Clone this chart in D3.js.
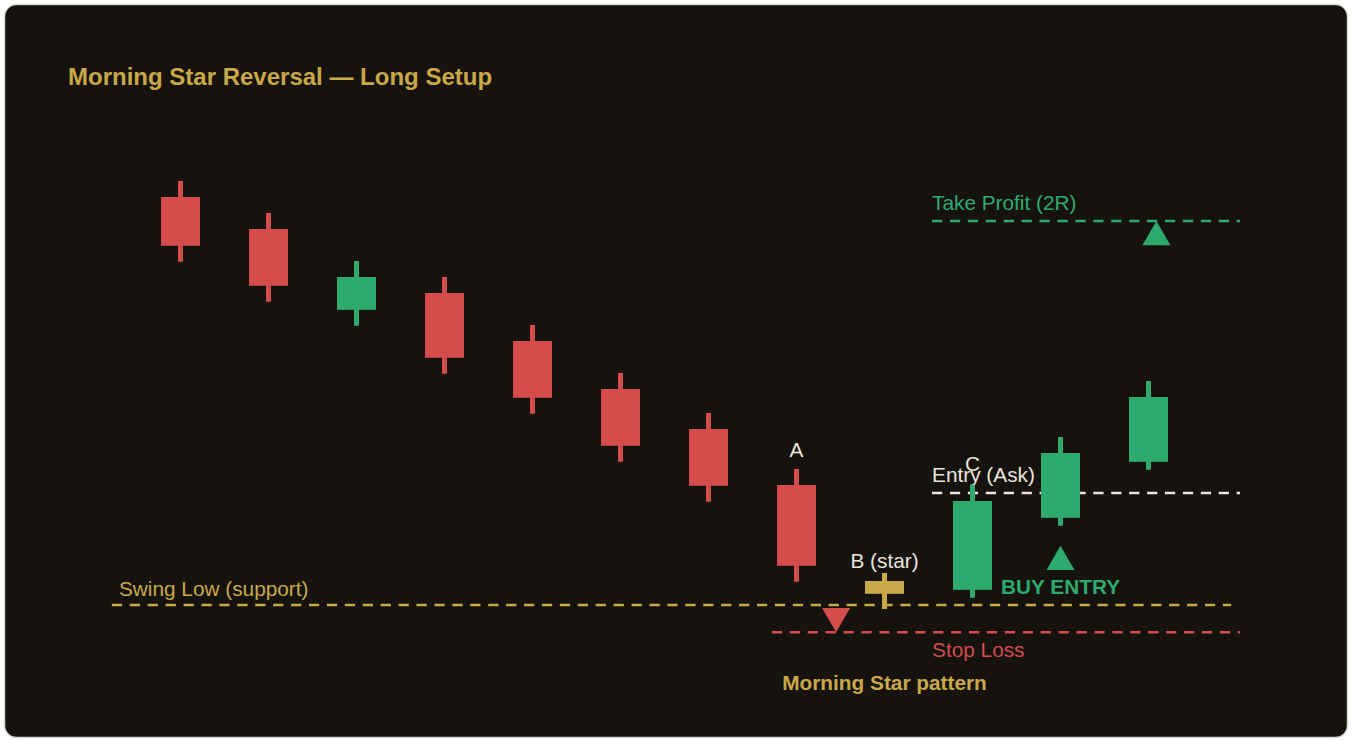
<!DOCTYPE html>
<html>
<head>
<meta charset="utf-8">
<script src="https://cdn.jsdelivr.net/npm/d3@7"></script>
<style>
  body { margin: 0; background: #ffffff; }
  text { font-family: "Liberation Sans", Arial, sans-serif; }
</style>
</head>
<body>
<div id="chart"></div>
<script>
var width = 1353;
var height = 740;

// candles, index 0..11
var opens = [151, 147, 136.9, 139, 133, 127, 122, 115, 103, 101.9, 110.9, 117.9];
var closes = [144.9, 139.9, 141, 130.9, 125.9, 119.9, 114.9, 104.9, 101.4, 113, 119, 126];
var highs = [153, 149, 143, 141, 135, 129, 124, 117, 104, 115, 121, 128];
var lows = [142.9, 137.9, 134.9, 128.9, 123.9, 117.9, 112.9, 102.9, 99.5, 100.9, 109.9, 116.9];
var starIndex = 8;

// horizontal levels
var levelNames = ["Swing Low (support)", "Stop Loss", "Entry (Ask)", "Take Profit (2R)"];
var levelPrices = [100, 96.6, 114, 148];
var levelColors = ["#c9a84a", "#d44c4c", "#e9e5dc", "#2eaa6e"];
// where each level starts / ends and where its label sits (candle index, price)
var levelFrom = [-0.78, 6.72, 8.54, 8.54];
var levelTo = [11.94, 12.04, 12.04, 12.04];
var levelLabelX = [-0.7, 8.54, 8.54, 8.54];
var levelLabelPrice = [101.1, 93.5, 115.4, 149.4];

// triangle markers
var markerX = [7.45, 10, 11.09];
var markerPrice = [96.6, 107.4, 148];
var markerDir = ["down", "up", "up"];
var markerColors = ["#d44c4c", "#2eaa6e", "#2eaa6e"];

// text annotations
var noteTexts = ["A", "B (star)", "C", "BUY ENTRY", "Morning Star pattern"];
var noteX = [7, 8, 9, 10, 8];
var notePrice = [118.5, 104.6, 116.75, 101.4, 89.4];
var noteColors = ["#e9e5dc", "#e9e5dc", "#e9e5dc", "#2eaa6e", "#c9a84a"];
var noteBold = [false, false, false, true, true];

var COLOR = {
  bg: "#16130f",
  up: "#2eaa6e",
  down: "#d44c4c",
  star: "#c9a84a",
};

var svg = d3
  .select("#chart")
  .append("svg")
  .attr("width", width)
  .attr("height", height);

svg
  .append("rect")
  .attr("x", 4.5)
  .attr("y", 4.5)
  .attr("width", 1343)
  .attr("height", 733)
  .attr("rx", 12)
  .attr("fill", COLOR.bg)
  .attr("stroke", "#d9d6cf")
  .attr("stroke-width", 1.5);

var x = d3.scaleLinear().domain([0, 11]).range([180.5, 1148.5]);
var y = d3.scaleLinear().domain([100, 150]).range([605, 205]);
var bodyW = 39;

svg
  .append("text")
  .attr("x", 68)
  .attr("y", 85)
  .attr("fill", "#c9a84a")
  .style("font-size", "24px")
  .style("font-weight", "bold")
  .text("Morning Star Reversal — Long Setup");

// levels
var levels = levelNames.map(function (n, i) {
  return {
    name: n,
    price: levelPrices[i],
    color: levelColors[i],
    from: levelFrom[i],
    to: levelTo[i],
    lx: levelLabelX[i],
    lp: levelLabelPrice[i],
  };
});

svg
  .append("g")
  .selectAll("line")
  .data(levels)
  .enter()
  .append("line")
  .attr("x1", function (d) { return x(d.from); })
  .attr("x2", function (d) { return x(d.to); })
  .attr("y1", function (d) { return y(d.price); })
  .attr("y2", function (d) { return y(d.price); })
  .attr("stroke", function (d) { return d.color; })
  .attr("stroke-width", 2.5)
  .attr("stroke-dasharray", "10.24,7.68");

svg
  .append("g")
  .selectAll("text")
  .data(levels)
  .enter()
  .append("text")
  .attr("x", function (d) { return x(d.lx); })
  .attr("y", function (d) { return y(d.lp); })
  .attr("fill", function (d) { return d.color; })
  .style("font-size", "20.8px")
  .text(function (d) { return d.name; });

// candles
var candles = opens.map(function (o, i) {
  return { i: i, open: o, close: closes[i], high: highs[i], low: lows[i] };
});

function candleColor(d) {
  if (d.i === starIndex) return COLOR.star;
  return d.close >= d.open ? COLOR.up : COLOR.down;
}

var cg = svg
  .append("g")
  .selectAll("g")
  .data(candles)
  .enter()
  .append("g");

cg.append("rect")
  .attr("x", function (d) { return x(d.i) - 2.5; })
  .attr("width", 5)
  .attr("y", function (d) { return y(d.high); })
  .attr("height", function (d) { return y(d.low) - y(d.high); })
  .attr("fill", candleColor);

cg.append("rect")
  .attr("x", function (d) { return x(d.i) - bodyW / 2; })
  .attr("width", bodyW)
  .attr("y", function (d) { return y(Math.max(d.open, d.close)); })
  .attr("height", function (d) {
    return Math.abs(y(d.open) - y(d.close));
  })
  .attr("fill", candleColor);

// markers
var tri = d3.symbol().type(d3.symbolTriangle).size(340);
var triR = Math.sqrt(340 / (3 * Math.sqrt(3)));

svg
  .append("g")
  .selectAll("path")
  .data(markerX)
  .enter()
  .append("path")
  .attr("d", tri)
  .attr("fill", function (d, i) { return markerColors[i]; })
  .attr("transform", function (d, i) {
    var ty = y(markerPrice[i]);
    if (markerDir[i] === "down") {
      return "translate(" + x(d) + "," + (ty - 2 * triR) + ") rotate(180)";
    }
    return "translate(" + x(d) + "," + (ty + 2 * triR) + ")";
  });

// annotations
svg
  .append("g")
  .selectAll("text")
  .data(noteTexts)
  .enter()
  .append("text")
  .attr("x", function (d, i) { return x(noteX[i]); })
  .attr("y", function (d, i) { return y(notePrice[i]); })
  .attr("text-anchor", "middle")
  .attr("fill", function (d, i) { return noteColors[i]; })
  .style("font-size", "20.8px")
  .style("font-weight", function (d, i) { return noteBold[i] ? "bold" : "normal"; })
  .text(function (d) { return d; });
</script>
</body>
</html>
